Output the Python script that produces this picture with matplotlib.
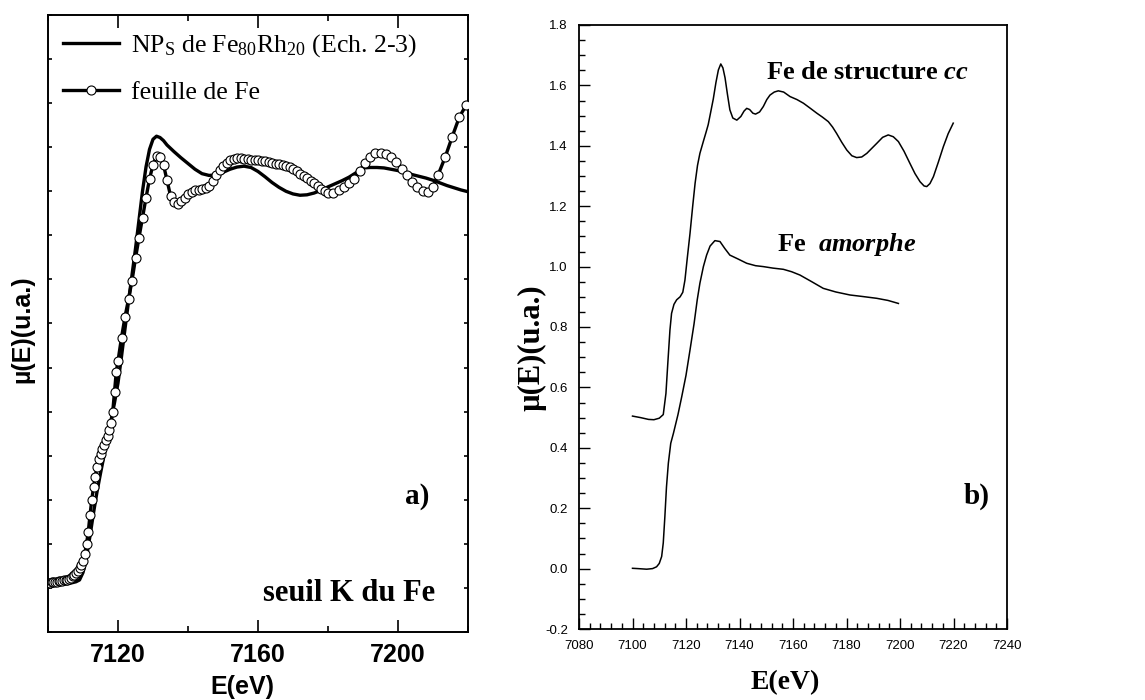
import matplotlib
matplotlib.use('Agg')
import matplotlib.pyplot as plt
from matplotlib.ticker import MultipleLocator, FormatStrFormatter

plt.rcParams['axes.unicode_minus'] = False
plt.rcParams['mathtext.fontset'] = 'custom'
plt.rcParams['mathtext.rm'] = 'Liberation Serif'
plt.rcParams['mathtext.it'] = 'Liberation Serif:italic'
plt.rcParams['mathtext.bf'] = 'Liberation Serif:bold'
plt.rcParams['mathtext.bfit'] = 'Liberation Serif:bold:italic'

# --- a) Fe K edge: Fe80Rh20 nanoparticles vs Fe foil (arb. units) ---
nps_e = [7100, 7102, 7104, 7106, 7108, 7109, 7110, 7111, 7112, 7113, 7114, 7115,
         7116, 7117, 7118, 7119, 7120, 7121, 7122, 7123, 7124, 7125, 7126, 7127,
         7128, 7129, 7130, 7131, 7132, 7133, 7134, 7136, 7138, 7140, 7142, 7144,
         7146, 7148, 7150, 7152, 7154, 7156, 7158, 7160, 7162, 7164, 7166, 7168,
         7170, 7172, 7174, 7176, 7178, 7180, 7182, 7184, 7186, 7188, 7190, 7192,
         7194, 7196, 7198, 7200, 7202, 7204, 7206, 7208, 7210, 7212, 7214, 7216,
         7218, 7220]
nps_mu = [0.107, 0.108, 0.109, 0.110, 0.114, 0.118, 0.135, 0.170, 0.218, 0.270, 0.318, 0.360,
          0.400, 0.440, 0.480, 0.520, 0.565, 0.625, 0.688, 0.750, 0.810, 0.870, 0.935, 1.000,
          1.055, 1.095, 1.118, 1.125, 1.122, 1.115, 1.105, 1.090, 1.076, 1.063, 1.050, 1.040,
          1.036, 1.037, 1.043, 1.050, 1.055, 1.057, 1.054, 1.045, 1.033, 1.020, 1.009, 1.000,
          0.994, 0.991, 0.992, 0.996, 1.002, 1.010, 1.017, 1.024, 1.032, 1.042, 1.053, 1.054,
          1.054, 1.053, 1.050, 1.047, 1.043, 1.038, 1.034, 1.030, 1.025, 1.019, 1.013, 1.008,
          1.003, 0.999]

foil_e = [7100, 7100.5, 7101, 7101.5, 7102, 7102.5, 7103, 7103.5, 7104, 7104.5,
          7105, 7105.5, 7106, 7106.5, 7107, 7107.5, 7108, 7108.5, 7109, 7109.5,
          7110, 7110.5, 7111, 7111.5, 7112, 7112.5, 7113, 7113.5, 7114, 7114.5,
          7115, 7115.5, 7116, 7116.5, 7117, 7117.5, 7118, 7118.5, 7119, 7119.5,
          7120, 7121, 7122, 7123, 7124, 7125, 7126, 7127, 7128, 7129,
          7130, 7131, 7132, 7133, 7134, 7135, 7136, 7137, 7138, 7139,
          7140, 7141, 7142, 7143, 7144, 7145, 7146, 7147, 7148, 7149,
          7150, 7151, 7152, 7153, 7154, 7155, 7156, 7157, 7158, 7159,
          7160, 7161, 7162, 7163, 7164, 7165, 7166, 7167, 7168, 7169,
          7170, 7171, 7172, 7173, 7174, 7175, 7176, 7177, 7178, 7179,
          7180, 7181.5, 7183, 7184.5, 7186, 7187.5, 7189, 7190.5, 7192, 7193.5,
          7195, 7196.5, 7198, 7199.5, 7201, 7202.5, 7204, 7205.5, 7207, 7208.5,
          7210, 7211.5, 7213.5, 7215.5, 7217.5, 7219.5, 7221.5]
foil_mu = [0.112, 0.112, 0.113, 0.113, 0.114, 0.114, 0.115, 0.116, 0.116, 0.117,
           0.118, 0.119, 0.121, 0.123, 0.126, 0.129, 0.133, 0.139, 0.146, 0.152,
           0.160, 0.178, 0.200, 0.227, 0.265, 0.300, 0.328, 0.352, 0.375, 0.392,
           0.405, 0.415, 0.425, 0.435, 0.445, 0.458, 0.474, 0.500, 0.545, 0.590,
           0.615, 0.668, 0.715, 0.755, 0.797, 0.848, 0.895, 0.940, 0.985, 1.028,
           1.060, 1.080, 1.078, 1.060, 1.025, 0.990, 0.975, 0.972, 0.977, 0.985,
           0.993, 0.999, 1.002, 1.004, 1.005, 1.007, 1.012, 1.024, 1.036, 1.048,
           1.058, 1.065, 1.070, 1.074, 1.075, 1.075, 1.074, 1.073, 1.072, 1.071,
           1.070, 1.069, 1.068, 1.066, 1.065, 1.063, 1.061, 1.059, 1.057, 1.055,
           1.051, 1.046, 1.040, 1.035, 1.030, 1.024, 1.018, 1.012, 1.006, 1.000,
           0.997, 0.997, 1.002, 1.009, 1.018, 1.028, 1.045, 1.064, 1.078, 1.086,
           1.088, 1.084, 1.077, 1.066, 1.051, 1.036, 1.021, 1.009, 1.001, 0.999,
           1.010, 1.038, 1.078, 1.124, 1.168, 1.196, 1.220]

# --- b) reference spectra: bcc Fe and amorphous Fe ---
bcc_e = [7100, 7103, 7106, 7108, 7110, 7111.5, 7112.5, 7113.2, 7114, 7114.6,
         7115.5, 7116.5, 7117.8, 7118.8, 7119.6, 7120.5, 7121.5, 7122.5, 7123.4, 7124.3,
         7125.2, 7126.5, 7127.5, 7128.3, 7129.2, 7130.2, 7131.2, 7132.1, 7133, 7133.8,
         7134.6, 7135.5, 7136.4, 7137.5, 7139, 7140.5, 7141.7, 7142.7, 7143.8, 7145,
         7146, 7147.5, 7148.9, 7150.2, 7151.4, 7153, 7154.5, 7156.5, 7158.9, 7161.5,
         7163.9, 7166.5, 7168.9, 7171, 7173.2, 7174.8, 7176.3, 7178.2, 7180.1, 7182,
         7183.8, 7185.7, 7187.6, 7189.5, 7191.3, 7193.5, 7195.6, 7197.5, 7199.4, 7201.5,
         7203.7, 7205.6, 7207.5, 7209, 7210, 7211.2, 7212.5, 7214.3, 7216.2, 7218, 7219.9]
bcc_mu = [0.505, 0.500, 0.494, 0.493, 0.498, 0.510, 0.580, 0.680, 0.790, 0.845,
          0.875, 0.890, 0.900, 0.915, 0.955, 1.030, 1.110, 1.200, 1.276, 1.335,
          1.375, 1.415, 1.445, 1.470, 1.510, 1.555, 1.610, 1.651, 1.671, 1.658,
          1.625, 1.570, 1.519, 1.492, 1.485, 1.497, 1.515, 1.524, 1.520, 1.508,
          1.505, 1.512, 1.530, 1.553, 1.568, 1.578, 1.582, 1.578, 1.563, 1.553,
          1.541, 1.524, 1.508, 1.495, 1.480, 1.462, 1.441, 1.412, 1.386, 1.367,
          1.361, 1.363, 1.375, 1.392, 1.408, 1.428, 1.436, 1.430, 1.414, 1.382,
          1.342, 1.308, 1.281, 1.267, 1.265, 1.275, 1.298, 1.345, 1.397, 1.440, 1.475]

amo_e = [7100, 7102, 7105.3, 7107.5, 7109, 7110, 7110.9, 7111.5, 7112.1, 7112.7,
         7113.4, 7114.3, 7115.3, 7117, 7118.4, 7120, 7121.5, 7123, 7124.2, 7125.2,
         7126.5, 7127.7, 7129, 7130.8, 7132.7, 7134.5, 7136.4, 7139.5, 7142.7, 7146,
         7148.9, 7152.5, 7156.4, 7159.5, 7162.6, 7167, 7171.3, 7176, 7181.3, 7186,
         7191.3, 7195.5, 7199.4]
amo_mu = [0.001, 0.000, -0.002, 0.000, 0.006, 0.017, 0.040, 0.085, 0.172, 0.270,
          0.349, 0.415, 0.448, 0.510, 0.569, 0.640, 0.724, 0.810, 0.890, 0.945,
          1.000, 1.038, 1.068, 1.086, 1.083, 1.060, 1.038, 1.025, 1.011, 1.003,
          1.000, 0.995, 0.991, 0.983, 0.972, 0.950, 0.928, 0.916, 0.906, 0.901,
          0.895, 0.888, 0.878]

SERIF = 'Liberation Serif'
SANS = 'Liberation Sans'

fig = plt.figure(figsize=(11.45, 7), dpi=100)

# left panel
ax1 = fig.add_axes([48 / 1145, 68 / 700, 420 / 1145, 617 / 700])
ax1.plot(nps_e, nps_mu, color='black', lw=2.4, zorder=2,
         label=r'NP$_\mathrm{S}$ de Fe$_{80}$Rh$_{20}$ (Ech. 2-3)')
ax1.plot(foil_e, foil_mu, color='black', lw=2.4, marker='o', ms=6.5,
         mfc='white', mec='black', mew=0.8, zorder=3, label='feuille de Fe')
ax1.set_xlim(7100, 7220)
ax1.set_ylim(0, 1.4)
ax1.xaxis.set_major_locator(MultipleLocator(40))
ax1.xaxis.set_minor_locator(MultipleLocator(20))
ax1.yaxis.set_major_locator(MultipleLocator(0.1))
ax1.tick_params(which='both', direction='in', top=True, right=True, width=1.2)
ax1.tick_params(axis='x', which='major', length=9, pad=8, labelsize=18)
ax1.tick_params(axis='x', which='minor', length=4)
ax1.tick_params(axis='y', length=3, labelleft=False)
for t in ax1.get_xticklabels():
    t.set_fontfamily(SANS)
    t.set_fontweight('bold')
for s in ax1.spines.values():
    s.set_linewidth(1.4)

ax1.legend(loc='upper left', bbox_to_anchor=(0.035, 0.972), frameon=False,
           prop={'family': SERIF, 'size': 18.5}, handlelength=2.2,
           handletextpad=0.45, labelspacing=0.85, borderpad=0, borderaxespad=0,
           numpoints=1, markerscale=1.0)

ax1.text(0.462, -0.089, 'E(eV)', transform=ax1.transAxes, ha='center', va='center',
         fontsize=18, fontweight='bold', family=SANS)
ax1.text(-0.06, 0.49, 'µ(E)(u.a.)', transform=ax1.transAxes, rotation=90,
         ha='center', va='center', fontsize=18, fontweight='bold', family=SANS)
ax1.text(0.879, 0.219, 'a)', transform=ax1.transAxes, ha='center', va='center',
         fontsize=21, fontweight='bold', family=SERIF)
ax1.text(0.717, 0.063, 'seuil K du Fe', transform=ax1.transAxes, ha='center',
         va='center', fontsize=22, fontweight='bold', family=SERIF)

# right panel
ax2 = fig.add_axes([579 / 1145, 71 / 700, 428 / 1145, 604 / 700])
ax2.plot(bcc_e, bcc_mu, color='black', lw=1.1)
ax2.plot(amo_e, amo_mu, color='black', lw=1.1)
ax2.set_xlim(7080, 7240)
ax2.set_ylim(-0.2, 1.8)
ax2.xaxis.set_major_locator(MultipleLocator(20))
ax2.xaxis.set_minor_locator(MultipleLocator(4))
ax2.yaxis.set_major_locator(MultipleLocator(0.2))
ax2.yaxis.set_minor_locator(MultipleLocator(0.05))
ax2.xaxis.set_major_formatter(FormatStrFormatter('%d'))
ax2.yaxis.set_major_formatter(FormatStrFormatter('%.1f'))
ax2.tick_params(which='both', direction='in', width=1.0, labelsize=9.5)
ax2.tick_params(which='major', length=8, pad=8)
ax2.tick_params(which='minor', length=4)
for t in ax2.get_xticklabels() + ax2.get_yticklabels():
    t.set_fontfamily(SANS)
for s in ax2.spines.values():
    s.set_linewidth(1.3)

ax2.text(0.481, -0.089, 'E(eV)', transform=ax2.transAxes, ha='center', va='center',
         fontsize=20, fontweight='bold', family=SERIF)
ax2.text(-0.11, 0.465, 'µ(E)(u.a.)', transform=ax2.transAxes, rotation=90,
         ha='center', va='center', fontsize=22, fontweight='bold', family=SERIF)
ax2.text(0.675, 0.922, r'Fe de structure $\mathbfit{cc}$', transform=ax2.transAxes,
         ha='center', va='center', fontsize=19, fontweight='bold', family=SERIF)
ax2.text(0.626, 0.636, r'Fe  $\mathbfit{amorphe}$', transform=ax2.transAxes,
         ha='center', va='center', fontsize=19, fontweight='bold', family=SERIF)
ax2.text(0.930, 0.219, 'b)', transform=ax2.transAxes, ha='center', va='center',
         fontsize=21, fontweight='bold', family=SERIF)

fig.savefig('out.png', dpi=100)
